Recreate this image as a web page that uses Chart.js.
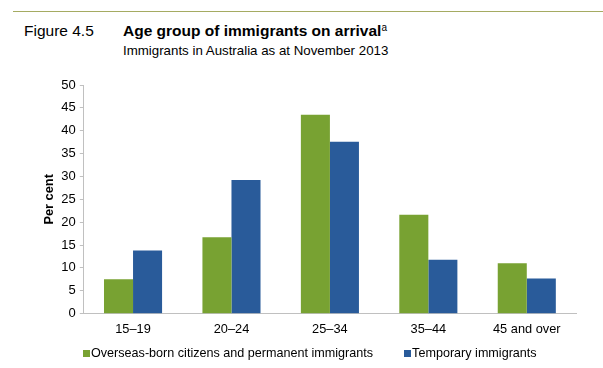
<!DOCTYPE html>
<html>
<head>
<meta charset="utf-8">
<script src="https://cdn.jsdelivr.net/npm/chart.js@4"></script>
<style>
  html, body { margin: 0; padding: 0; background: #fff; }
  body { width: 603px; height: 368px; position: relative; overflow: hidden; font-family: "Liberation Sans", Arial, sans-serif; color: #000; }
  #rule { position: absolute; left: 13px; top: 11px; width: 590px; height: 1px; background: #a5ab62; }
  .t { position: absolute; white-space: nowrap; line-height: 1; }
  #fig { left: 24px; top: 23px; font-size: 15.5px; }
  #title { left: 123px; top: 23px; font-size: 15.5px; font-weight: bold; }
  #title sup { font-size: 10px; font-weight: normal; vertical-align: 5px; }
  #sub { left: 123px; top: 44px; font-size: 13.3px; }
  #wrap { position: absolute; left: 0; top: 0; width: 603px; height: 368px; }
  #legend { position: absolute; top: 346px; left: 83px; font-size: 12.6px; display: flex; line-height: 15px; }
  .item { display: flex; align-items: center; }
  .box { width: 7px; height: 7px; margin-right: 1px; }
</style>
</head>
<body>
<div id="rule"></div>
<div class="t" id="fig">Figure 4.5</div>
<div class="t" id="title">Age group of immigrants on arrival<sup>a</sup></div>
<div class="t" id="sub">Immigrants in Australia as at November 2013</div>
<div id="wrap"><canvas id="chart"></canvas></div>
<div id="legend"></div>
<script>
// age groups and shares (per cent)
const categories = ['15\u201319', '20\u201324', '25\u201334', '35\u201344', '45 and over'];
const seriesNames = ['Overseas-born citizens and permanent immigrants', 'Temporary immigrants'];
const permanent = [7.5, 16.7, 43.5, 21.6, 11.0];
const temporary = [13.8, 29.2, 37.6, 11.8, 7.7];
const colours = ['#78a232', '#295b9a'];

const ctx = document.getElementById('chart').getContext('2d');
new Chart(ctx, {
    type: 'bar',
    data: {
        labels: categories,
        datasets: [{
            label: seriesNames[0],
            data: permanent,
            backgroundColor: colours[0]
        }, {
            label: seriesNames[1],
            data: temporary,
            backgroundColor: colours[1]
        }]
    },
    options: {
        responsive: true,
        maintainAspectRatio: false,
        animation: false,
        categoryPercentage: 0.59,
        barPercentage: 1,
        layout: { padding: { left: 42, right: 27, top: 85, bottom: 23 } },
        plugins: {
            legend: { display: false },
            tooltip: { enabled: false }
        },
        scales: {
            x: {
                grid: { display: false, drawTicks: false },
                border: { color: '#c0c0c0' },
                ticks: { color: '#000', padding: 8, font: { family: 'Liberation Sans', size: 12.8 } }
            },
            y: {
                min: 0,
                max: 50,
                ticks: { stepSize: 5, color: '#000', padding: 4, font: { family: 'Liberation Sans', size: 13 } },
                grid: { drawOnChartArea: false, tickLength: 4, color: '#c0c0c0' },
                border: { color: '#c0c0c0' },
                title: { display: true, text: 'Per cent', color: '#000', padding: 0, font: { family: 'Liberation Sans', size: 12.8, weight: 'bold' } }
            }
        }
    }
});

// legend below the chart
const legend = document.getElementById('legend');
seriesNames.forEach((name, i) => {
    const item = document.createElement('div');
    item.className = 'item';
    if (i > 0) item.style.marginLeft = '31px';
    item.innerHTML = '<span class="box" style="background:' + colours[i] + '"></span>' + name;
    legend.appendChild(item);
});
</script>
</body>
</html>
